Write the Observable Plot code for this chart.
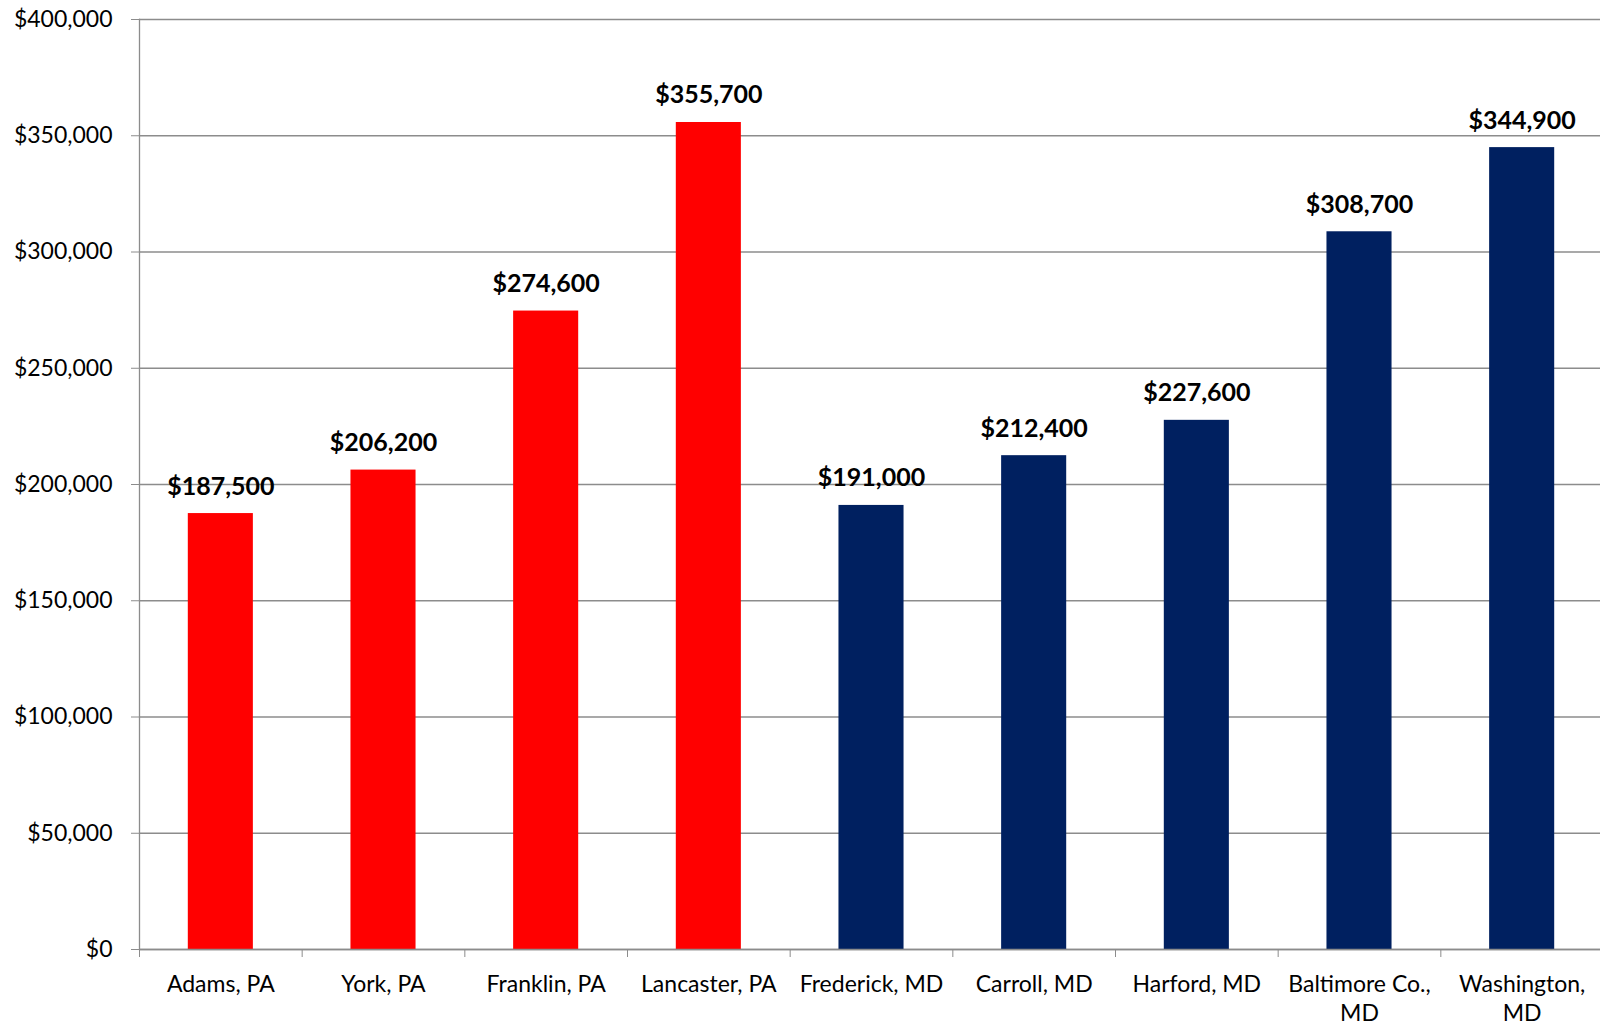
<!DOCTYPE html>
<html><head><meta charset="utf-8">
<script src="https://cdn.jsdelivr.net/npm/d3@7"></script>
<script src="https://cdn.jsdelivr.net/npm/@observablehq/plot@0.6"></script>
<style>
html,body{margin:0;padding:0;background:#fff;}
#chart{position:absolute;left:0;top:0;}
</style>
</head><body><div id="chart"></div>
<script>
const counties = ["Adams, PA", "York, PA", "Franklin, PA", "Lancaster, PA", "Frederick, MD", "Carroll, MD", "Harford, MD", "Baltimore Co., MD", "Washington, MD"];
const values = [187500, 206200, 274600, 355700, 191000, 212400, 227600, 308700, 344900];
const states = ["PA", "PA", "PA", "PA", "MD", "MD", "MD", "MD", "MD"];
const yTicks = [0, 50000, 100000, 150000, 200000, 250000, 300000, 350000, 400000];

const data = counties.map((c, i) => ({county: c, value: values[i], state: states[i]}));
const fmt = d3.format("$,");
const wrap = d => {
  if (d.length <= 13) return d;
  const k = d.lastIndexOf(", ");
  return d.slice(0, k + 1) + "\n" + d.slice(k + 2);
};

const W = 1600, H = 1029;
const xRange = [139, 1603];
const step = (xRange[1] - xRange[0]) / counties.length;
const gray = "#8c8c8c";

const chart = Plot.plot({
  width: W, height: H,
  marginTop: 19, marginBottom: 80, marginLeft: 139, marginRight: 0,
  style: {fontFamily: "Lato, 'Open Sans', sans-serif", fontSize: "23px", color: "#000", background: "#fff"},
  x: {domain: counties, range: xRange, paddingInner: 0.6, paddingOuter: 0.3, round: false, label: null},
  y: {domain: [0, 400000], label: null},
  color: {domain: ["PA", "MD"], range: ["#FF0000", "#002060"]},
  marks: [
    Plot.gridY(yTicks, {stroke: gray, strokeOpacity: 1, strokeWidth: 1.3}),
    Plot.axisY(yTicks, {tickSize: 8, tickPadding: 19, tickFormat: fmt, stroke: gray, fill: "#000", fontSize: 23, label: null}),
    Plot.barY(data, {x: "county", y: "value", fill: "state"}),
    Plot.frame({anchor: "left", stroke: gray, strokeWidth: 1.3}),
    Plot.ruleY([0], {stroke: gray, strokeWidth: 1.3}),
    Plot.axisX({tickSize: 8, dx: -step / 2, stroke: gray, tickFormat: () => "", label: null}),
    Plot.axisX({tickSize: 0, tickPadding: 22, tickFormat: wrap, fill: "#000", fontSize: 23, lineHeight: 1.26, label: null}),
    Plot.text(data, {x: "county", y: "value", text: d => fmt(d.value), dy: -19, lineAnchor: "bottom", fontWeight: "bold", fontSize: 25, fill: "#000"})
  ]
});
document.getElementById("chart").appendChild(chart);
</script>
</body></html>
